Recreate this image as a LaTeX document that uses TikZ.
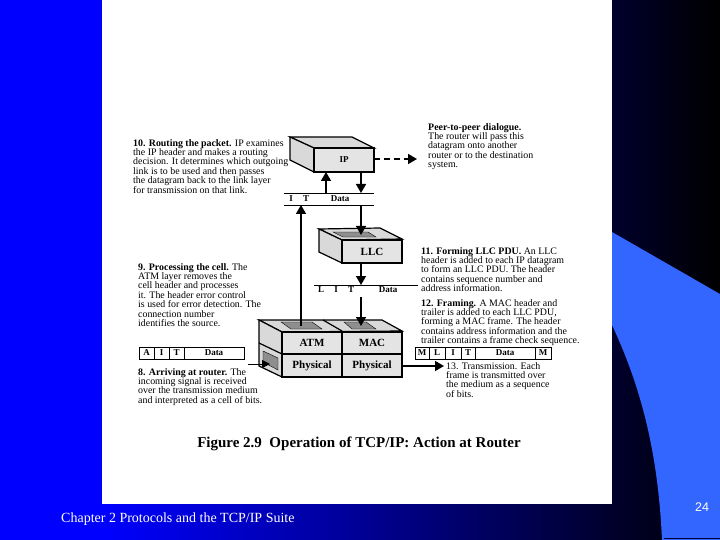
\documentclass[tikz,border=0pt]{standalone}
\usepackage{fontspec}
\setmainfont{Liberation Serif}
\newfontfamily\numfont{Liberation Sans}
\usetikzlibrary{positioning, arrows.meta, calc}
\definecolor{slideblue}{HTML}{3366FF}
\definecolor{facegray}{HTML}{E4E4E4}
\definecolor{sidegray}{HTML}{D9D9D9}
\definecolor{holegray}{HTML}{8E8E8E}
\tikzset{
    flow/.style={-{Triangle[width=10pt,length=9pt]}, line width=1.5pt},
    note/.style={align=left, anchor=north west, inner sep=0pt, font=\fontsize{9.9}{9.45}\selectfont},
    face/.style={draw=black, line width=1.2pt, fill=facegray},
    side/.style={draw=black, line width=1.2pt, fill=sidegray},
    hole/.style={draw=black, line width=0.4pt, fill=holegray},
    layer/.style={font=\bfseries\fontsize{11}{12}\selectfont, inner sep=0pt},
    field/.style={font=\bfseries\fontsize{9}{9}\selectfont, inner sep=0pt},
    cell/.style={draw=black, line width=0.8pt, minimum height=12pt, inner sep=0pt, outer sep=0pt, font=\bfseries\fontsize{9}{9}\selectfont}
}
\begin{document}
\begin{tikzpicture}[x=1pt, y=-1pt]
    \useasboundingbox (0,0) rectangle (720,540);

    % Slide background
    \fill[blue] (0,0) rectangle (103,540);
    \shade[left color=blue, right color=black, shading angle=90] (102,0) rectangle (720,540);
    \fill[slideblue] (612,232) -- (720,294) -- (720,540) -- (662,540)
        .. controls (658,450) and (640,385) .. (612,325) -- cycle;
    \draw[black!80!blue, line width=1pt] (664,538.5) -- (720,538.5);
    \fill[white] (102,0) rectangle (612,504);

    % IP box
    \filldraw[side] (290,137) -- (352,137) -- (374,148) -- (314,148) -- cycle;
    \filldraw[side] (290,137) -- (314,148) -- (314,172) -- (290,160) -- cycle;
    \node[face, minimum width=60pt, minimum height=24pt, inner sep=0pt, outer sep=0pt, anchor=north west, font=\bfseries\fontsize{9}{9}\selectfont] (ip) at (314,148) {IP};

    % LLC box
    \filldraw[side] (319,229) -- (380,228) -- (402,239) -- (342,240) -- cycle;
    \filldraw[hole] (333,232) -- (368,232) -- (376,237) -- (343,237) -- cycle;
    \filldraw[side] (319,229) -- (342,240) -- (342,263) -- (319,252) -- cycle;
    \node[face, minimum width=60pt, minimum height=23pt, outer sep=0pt, anchor=north west, layer] (llc) at (342,240) {LLC};

    % ATM and MAC boxes
    \filldraw[side] (259,320) -- (382,320) -- (402,331) -- (282,332) -- cycle;
    \draw[line width=1.2pt] (323,320) -- (342,331);
    \filldraw[hole] (281,322) -- (312,322) -- (322,329) -- (291,329) -- cycle;
    \filldraw[hole] (344,322) -- (366,322) -- (376,329) -- (352,329) -- cycle;
    \filldraw[side] (259,320) -- (282,332) -- (282,377) -- (259,366) -- cycle;
    \draw[line width=1.2pt] (259,343) -- (282,354);
    \filldraw[hole] (263,351) -- (278,358) -- (278,370) -- (263,362) -- cycle;
    \node[face, minimum width=60pt, minimum height=22pt, outer sep=0pt, anchor=north west, layer] (atm) at (282,332) {ATM};
    \node[face, minimum width=60pt, minimum height=22pt, outer sep=0pt, anchor=north west, layer] (mac) at (342,332) {MAC};
    \node[face, minimum width=60pt, minimum height=23pt, outer sep=0pt, anchor=north west, layer] (phyatm) at (282,354) {Physical};
    \node[face, minimum width=60pt, minimum height=23pt, outer sep=0pt, anchor=north west, layer] (phymac) at (342,354) {Physical};

    % Header rows
    \coordinate (ipleft) at (284,193);
    \coordinate (ipright) at (374,193);
    \coordinate (ipleftb) at (284,205);
    \coordinate (iprightb) at (374,205);
    \draw[line width=0.8pt] (ipleft) -- (ipright);
    \draw[line width=0.8pt] (ipleftb) -- (iprightb);
    \node[field] (ipI) at (291,199) {I};
    \node[field] (ipT) at (306,199) {T};
    \node[field] (ipData) at (340,199) {Data};
    \coordinate (llcleft) at (314,285);
    \coordinate (llcright) at (418,285);
    \draw[line width=0.8pt] (llcleft) -- (llcright);
    \node[field] (llcL) at (321,290) {L};
    \node[field] (llcI) at (336,290) {I};
    \node[field] (llcT) at (351,290) {T};
    \node[field] (llcData) at (388,290) {Data};

    % Cell
    \node[cell, minimum width=15pt] (cellA) at (146.5,353) {A};
    \node[cell, minimum width=15pt, right=0pt of cellA] (cellI) {I};
    \node[cell, minimum width=15pt, right=0pt of cellI] (cellT) {T};
    \node[cell, minimum width=60pt, right=0pt of cellT] (cellData) {Data};

    % Frame
    \node[cell, minimum width=14pt] (frameM) at (422,353) {M};
    \node[cell, minimum width=16pt, right=0pt of frameM] (frameL) {L};
    \node[cell, minimum width=16pt, right=0pt of frameL] (frameI) {I};
    \node[cell, minimum width=14pt, right=0pt of frameI] (frameT) {T};
    \node[cell, minimum width=60pt, right=0pt of frameT] (frameData) {Data};
    \node[cell, minimum width=16pt, right=0pt of frameData] (frameN) {M};

    % Arrows
    \coordinate (cellup) at (301,205);
    \coordinate (cellfoot) at (301,326);
    \coordinate (ipup) at (326,193);
    \coordinate (ipfoot) at (326,172);
    \coordinate (ipdown) at (361,172);
    \coordinate (iptop) at (361,193);
    \coordinate (iprow) at (361,205);
    \coordinate (llctop) at (361,235);
    \coordinate (llcfoot) at (361,263);
    \coordinate (llcrow) at (361,285);
    \coordinate (llcrowb) at (361,297);
    \coordinate (mactop) at (361,326);
    \coordinate (wirein) at (248,364);
    \coordinate (wiretip) at (270,364);
    \coordinate (peer) at (417,159);
    \coordinate (wireout) at (444,366);
    \draw[flow] (cellfoot) -- (cellup);
    \draw[flow] (ipup) -- (ipfoot);
    \draw[flow] (ipdown) -- (iptop);
    \draw[flow] (iprow) -- (llctop);
    \draw[flow] (llcfoot) -- (llcrow);
    \draw[flow] (llcrowb) -- (mactop);
    \draw[-{Triangle[width=8pt,length=8pt]}, line width=0.8pt] (wirein) -- (wiretip);
    \draw[flow, dash pattern=on 6pt off 4pt] (ip.east |- peer) -- (peer);
    \draw[flow] (phymac.east |- wireout) -- (wireout);

    % Notes
    \node[note] (routing) at (133,139) {\textbf{10. Routing the packet.} IP examines\\the IP header and makes a routing\\decision. It determines which outgoing\\link is to be used and then passes\\the datagram back to the link layer\\for transmission on that link.};
    \node[note] (dialogue) at (428,123) {\textbf{Peer-to-peer dialogue.}\\The router will pass this\\datagram onto another\\router or to the destination\\system.};
    \node[note] (forming) at (421,247) {\textbf{11. Forming LLC PDU.} An LLC\\header is added to each IP datagram\\to form an LLC PDU. The header\\contains sequence number and\\address information.};
    \node[note] (framing) at (421,299) {\textbf{12. Framing.} A MAC header and\\trailer is added to each LLC PDU,\\forming a MAC frame. The header\\contains address information and the\\trailer contains a frame check sequence.};
    \node[note] (transmit) at (446,362) {13. Transmission. Each\\frame is transmitted over\\the medium as a sequence\\of bits.};
    \node[note] (processing) at (138,263) {\textbf{9. Processing the cell.} The\\ATM layer removes the\\cell header and processes\\it. The header error control\\is used for error detection. The\\connection number\\identifies the source.};
    \node[note] (arriving) at (138,368) {\textbf{8. Arriving at router.} The\\incoming signal is received\\over the transmission medium\\and interpreted as a cell of bits.};

    % Caption and footer
    \node[font=\bfseries\fontsize{15}{16}\selectfont, inner sep=0pt] (caption) at (359,444) {Figure 2.9\ \ Operation of TCP/IP: Action at Router};
    \node[white, anchor=west, inner sep=0pt, font=\fontsize{14}{15}\selectfont] (chapter) at (61,519) {Chapter 2 Protocols and the TCP/IP Suite};
    \node[white, inner sep=0pt, font=\numfont\fontsize{12.5}{14}\selectfont] (pagenum) at (702,507) {24};
\end{tikzpicture}
\end{document}
